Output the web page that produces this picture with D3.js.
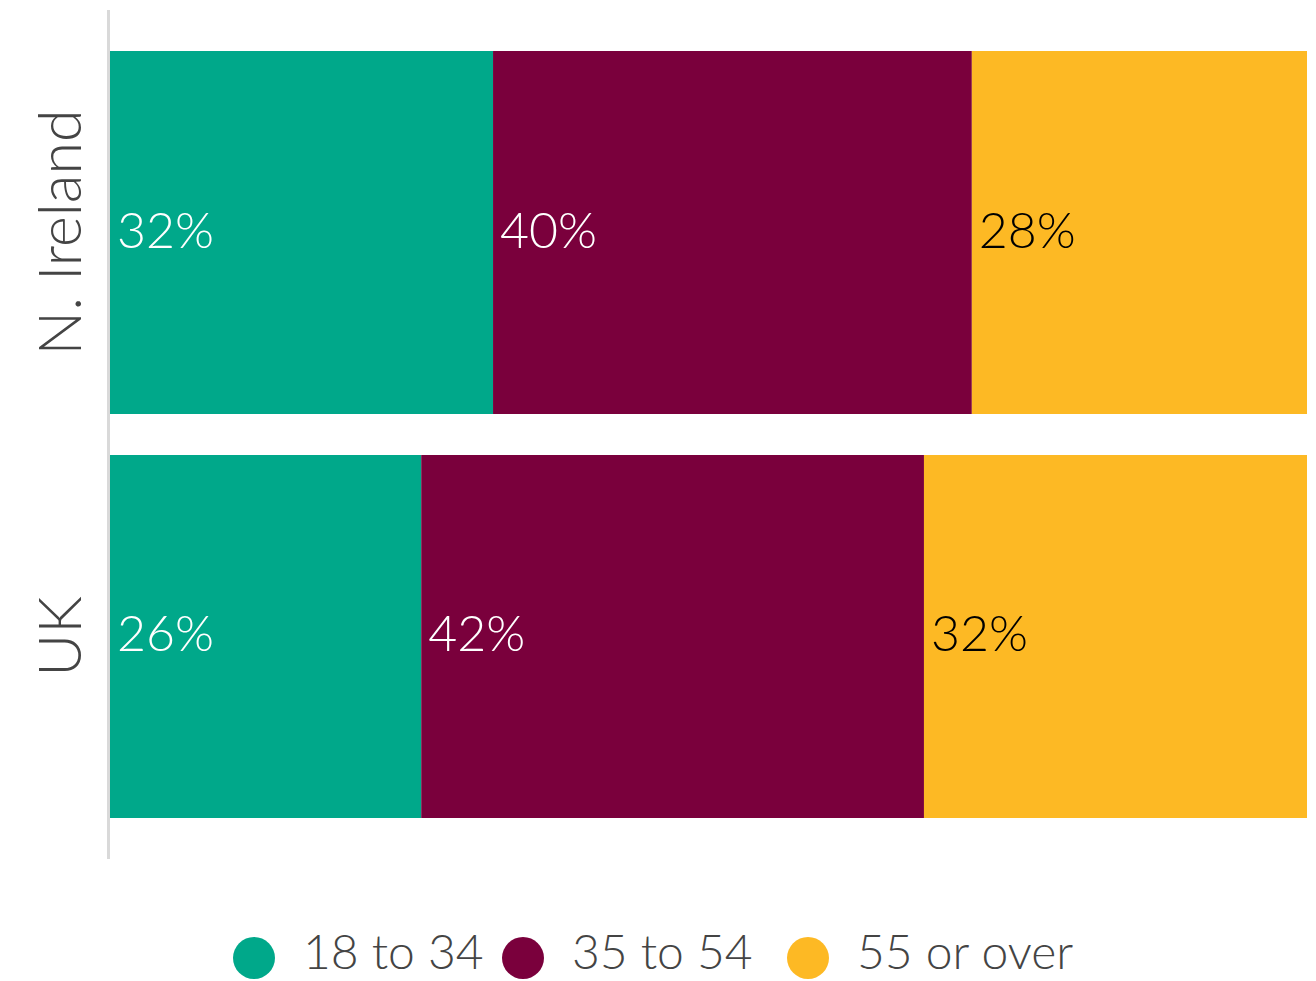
<!DOCTYPE html>
<html><head><meta charset="utf-8">
<script src="https://cdn.jsdelivr.net/npm/d3@7"></script>
<style>body{margin:0;background:#fff;} svg{display:block;font-family:Lato, "Open Sans", sans-serif;}</style>
</head><body>
<svg id="c" width="1316" height="981"></svg>
<script>
const categories = ["N. Ireland", "UK"];
const seriesNames = ["18 to 34", "35 to 54", "55 or over"];
const age18to34 = [32, 26];
const age35to54 = [40, 42];
const age55plus = [28, 32];
const colors = ["#00a88a", "#7a003c", "#fdb924"];
const labelColors = ["#ffffff", "#ffffff", "#000000"];

const svg = d3.select("#c");
const x = d3.scaleLinear().domain([0, 100]).range([110, 1307]);
const y = d3.scaleBand().domain(categories).range([10, 859]).padding(0.1015);

const rows = categories.map((c, i) => ({cat: c, "18 to 34": age18to34[i], "35 to 54": age35to54[i], "55 or over": age55plus[i]}));
const stack = d3.stack().keys(seriesNames)(rows);

const g = svg.append("g");
stack.forEach((layer, li) => {
  const lg = g.append("g");
  lg.selectAll("rect").data(layer).join("rect")
    .attr("x", d => x(d[0]))
    .attr("y", d => y(d.data.cat))
    .attr("width", d => x(d[1]) - x(d[0]))
    .attr("height", y.bandwidth())
    .attr("fill", colors[li]);
  lg.selectAll("text").data(layer).join("text")
    .attr("x", d => x(d[0]) + 7)
    .attr("y", d => y(d.data.cat) + y.bandwidth() / 2)
    .attr("dy", "0.3em")
    .attr("fill", labelColors[li])
    .attr("font-size", 50)
    .attr("font-weight", 300)
    .text(d => (d[1] - d[0]) + "%");
});

// axis line
svg.append("line").attr("x1", 108.5).attr("x2", 108.5).attr("y1", y.range()[0]).attr("y2", y.range()[1])
  .attr("stroke", "#d9d9d9").attr("stroke-width", 3);

// category labels (rotated)
svg.selectAll("text.cat").data(categories).join("text").attr("class", "cat")
  .attr("transform", d => `translate(81,${y(d) + y.bandwidth() / 2}) rotate(-90)`)
  .attr("text-anchor", "middle")
  .attr("fill", "#444")
  .attr("font-size", 59)
  .attr("font-weight", 300)
  .text(d => d);

// legend
const legendX = [254, 523, 808];
const lg = svg.append("g");
seriesNames.forEach((s, i) => {
  lg.append("circle").attr("cx", legendX[i]).attr("cy", 958).attr("r", 21).attr("fill", colors[i]);
  lg.append("text").attr("x", legendX[i] + 49).attr("y", 969).attr("fill", "#444")
    .attr("font-size", 48).attr("font-weight", 300).text(s);
});
</script>
</body></html>
